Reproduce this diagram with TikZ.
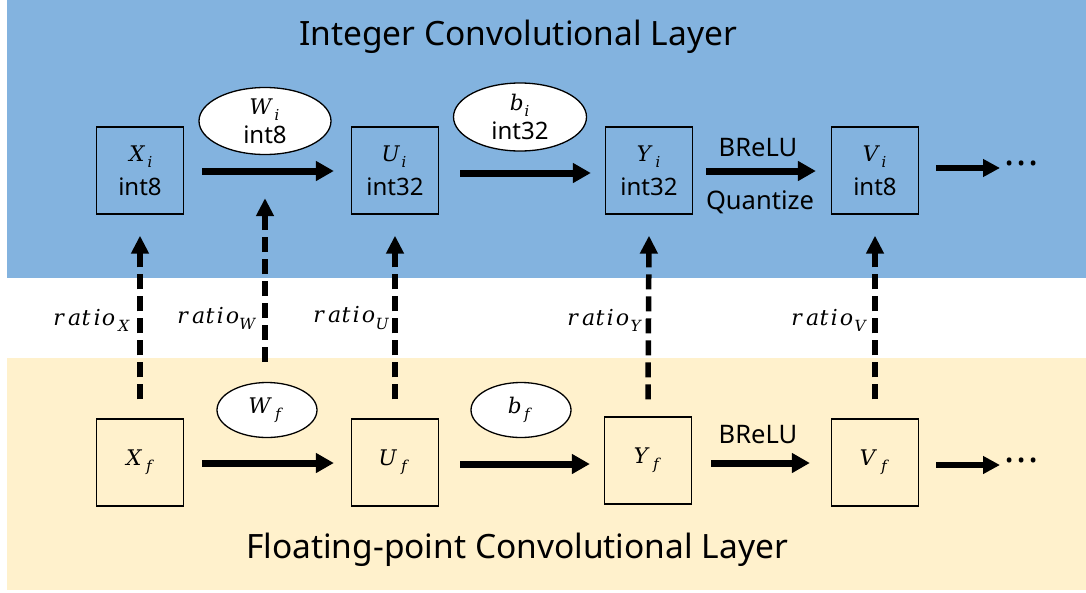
\documentclass[tikz,border=0pt]{standalone}
\usepackage{fontspec}
\usepackage{unicode-math}
\setmainfont{Noto Sans}
\setmathfont{DejaVu Math TeX Gyre}
\usetikzlibrary{arrows.meta,shapes.geometric}
\definecolor{topblue}{RGB}{131,179,223}
\definecolor{botbeige}{RGB}{255,241,204}
\newcommand\mysym[1]{{\fontsize{21.5}{24}\selectfont$#1$}}
\begin{document}
\begin{tikzpicture}[x=1pt,y=-1pt,
  box/.style={draw,line width=1.3pt,minimum width=87pt,minimum height=87pt,inner sep=0pt,align=center,font=\fontsize{24}{34}\selectfont},
  ell/.style={draw,ellipse,fill=white,line width=1.3pt,inner sep=0pt,align=center,font=\fontsize{24}{29}\selectfont},
  flow/.style={line width=7pt,-{Triangle[length=18pt,width=19pt]}},
  dashflow/.style={line width=5.5pt,dash pattern=on 15pt off 7pt,-{Triangle[length=18pt,width=17pt]}},
  ratiolbl/.style={anchor=east,inner sep=0pt,font=\fontsize{22}{26}\selectfont},
  opl/.style={inner sep=0pt,font=\fontsize{25.5}{28}\selectfont},
  title/.style={inner sep=0pt,font=\fontsize{33.5}{36}\selectfont},
  dotsl/.style={inner sep=0pt,anchor=west,font=\fontsize{38}{38}\selectfont\bfseries}
]
\useasboundingbox (0,0) rectangle (1086,592);
\fill[white] (0,0) rectangle (1086,592);
\fill[topblue] (7,0) rectangle (1086,278);
\fill[botbeige] (7,358) rectangle (1086,590);

\node[title] (ttop) at (518,37) {Integer Convolutional Layer};
\node[title] (tbot) at (517,550) {Floating-point Convolutional Layer};

% top row
\node[box] (Xi) at (140,170.5) {\mysym{X_i}\\int8};
\node[box] (Ui) at (395,170.5) {\mysym{U_i}\\int32};
\node[box] (Yi) at (649,170.5) {\mysym{Y_i}\\int32};
\node[box] (Vi) at (875,170.5) {\mysym{V_i}\\int8};
\node[ell,minimum width=132pt,minimum height=67pt] (Wi) at (265,121) {\mysym{W_i}\\int8};
\node[ell,minimum width=133pt,minimum height=68pt] (bi) at (520,117) {\mysym{b_i}\\int32};

% bottom row
\node[box] (Xf) at (140,462.5) {\mysym{X_f}};
\node[box] (Uf) at (395,462.5) {\mysym{U_f}};
\node[box] (Yf) at (648,460.5) {\mysym{Y_f}};
\node[box] (Vf) at (875,462.5) {\mysym{V_f}};
\node[ell,minimum width=100pt,minimum height=55pt] (Wf) at (267,410) {\mysym{W_f}};
\node[ell,minimum width=100pt,minimum height=55pt] (bf) at (521,410) {\mysym{b_f}};

% top arrows
\draw[flow] ([xshift=18pt]Xi.east |- 0,171) -- ([xshift=-17pt]Ui.west |- 0,171);
\draw[flow] ([xshift=21pt]Ui.east |- 0,173) -- ([xshift=-14pt]Yi.west |- 0,173);
\draw[flow] ([xshift=13pt]Yi.east |- 0,171) -- ([xshift=-15pt]Vi.west |- 0,171);
\node[opl] (brt) at (758,148) {BReLU};
\node[opl] (qnt) at (760,202) {Quantize};
\coordinate (endt) at (1000,168);
\draw[flow,line width=6pt,-{Triangle[length=17pt,width=17pt]}] ([xshift=17pt]Vi.east |- endt) -- (endt);
\node[dotsl] (dt) at (1004,163) {.\kern2pt.\kern2pt.};

% bottom arrows
\draw[flow] ([xshift=18pt]Xf.east |- 0,463) -- ([xshift=-17pt]Uf.west |- 0,463);
\draw[flow] ([xshift=21pt]Uf.east |- 0,464) -- ([xshift=-14pt]Yf.west |- 0,464);
\draw[flow] ([xshift=19pt]Yf.east |- 0,463) -- ([xshift=-21pt]Vf.west |- 0,463);
\node[opl] (brb) at (758,435) {BReLU};
\coordinate (endb) at (1000,465);
\draw[flow,line width=6pt,-{Triangle[length=17pt,width=17pt]}] ([xshift=17pt]Vf.east |- endb) -- (endb);
\node[dotsl] (db) at (1004,460) {.\kern2pt.\kern2pt.};

% dashed ratio arrows
\draw[dashflow] ([yshift=19pt]Xf.north) -- ([yshift=-21pt]Xi.south);
\coordinate (wstart) at (265,362);
\draw[dashflow] (wstart) -- ([yshift=-43pt]Wi.south);
\draw[dashflow] ([yshift=19pt]Uf.north) -- ([yshift=-21pt]Ui.south);
\draw[dashflow] ([yshift=17pt]Yf.north) -- ([yshift=-21pt]Yi.south);
\draw[dashflow] ([yshift=19pt]Vf.north) -- ([yshift=-21pt]Vi.south);

\node[ratiolbl] (rx) at (132,320) {$ratio_X$};
\node[ratiolbl] (rw) at (259,318) {$ratio_W$};
\node[ratiolbl] (ru) at (391,318) {$ratio_U$};
\node[ratiolbl] (ry) at (644,320) {$ratio_Y$};
\node[ratiolbl] (rv) at (869,320) {$ratio_V$};
\end{tikzpicture}
\end{document}
